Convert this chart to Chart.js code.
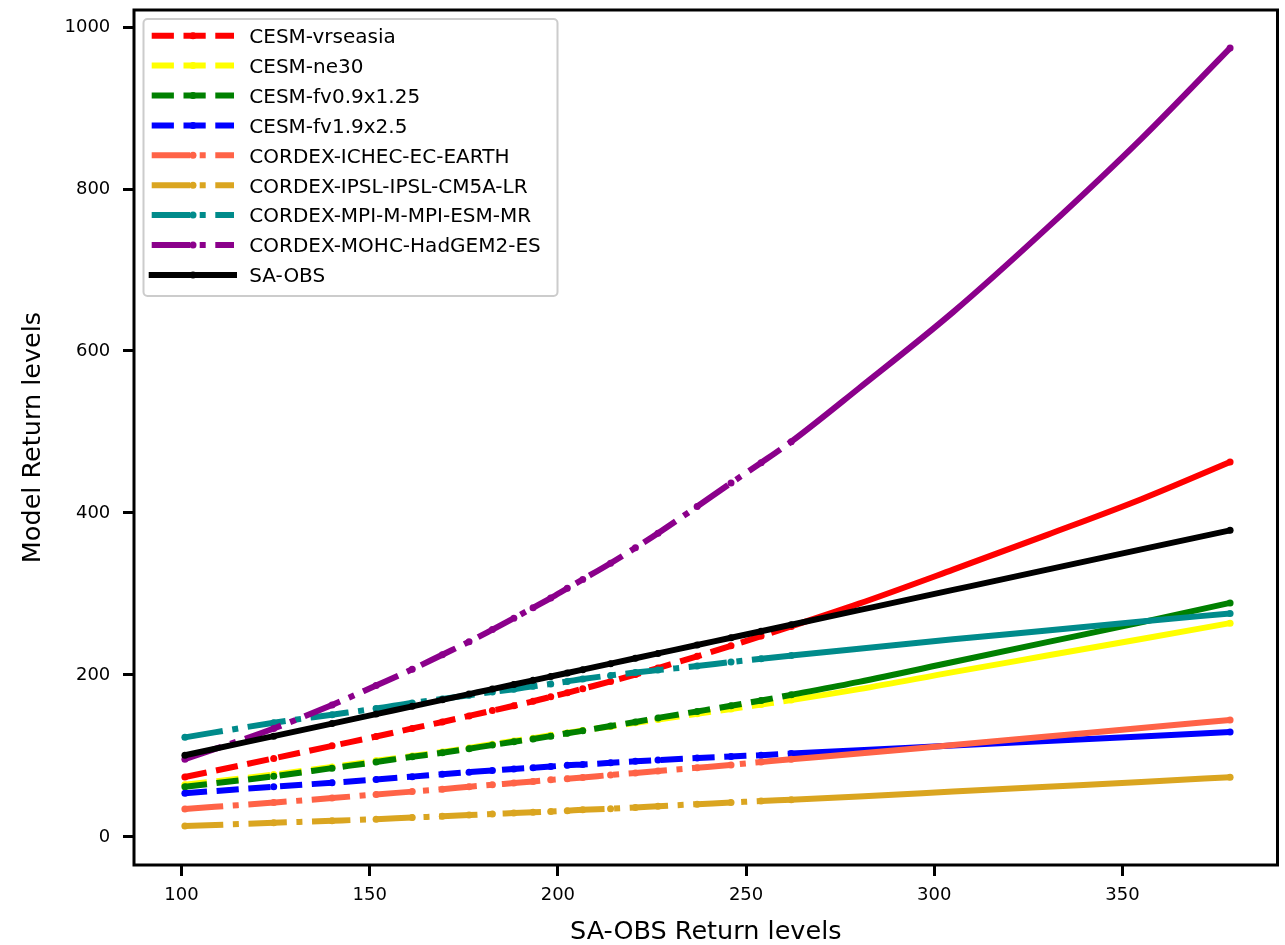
<!DOCTYPE html>
<html>
<head>
<meta charset="utf-8">
<script src="https://cdn.jsdelivr.net/npm/chart.js@4.4.1/dist/chart.umd.min.js"></script>
<style>
  html, body { margin: 0; padding: 0; background: #fff; }
  canvas { display: block; }
</style>
</head>
<body>
<canvas id="returnLevelChart" width="1285" height="945"></canvas>
<script>
// SA-OBS return levels, one entry per return period (x axis)
const obsLevels = [100.9, 124.5, 140, 151.7, 161.3, 169.3, 176.4, 182.6, 188.3, 193.4, 198.1, 202.5, 206.6,
  214, 220.6, 226.6, 237, 246, 254, 262, 280, 305, 330, 355, 378.6];

// Model return levels at the same return periods
const cesmVrseasia = [74, 97, 112.5, 124, 134, 142, 149.5, 156, 162, 167.5, 173, 178, 183,
  192, 200.5, 208.5, 223, 236, 248, 260, 288, 330, 373, 417, 463];
const cesmNe30 = [64.5, 77, 86.5, 94, 100, 105, 110, 114.5, 118.5, 122, 125.5, 128.5, 131.5,
  136.5, 141, 145, 152, 158, 163.5, 169, 182.5, 203.5, 224, 244.5, 264];
const cesmFv09 = [62, 75, 85, 92.5, 99, 104, 109, 113.5, 117.5, 121, 124.5, 128, 131,
  137, 142, 147, 155, 162, 168.5, 175.5, 191.5, 216, 240.5, 265, 289];
const cesmFv19 = [54, 62, 67, 71, 74.5, 77.5, 80, 82, 84, 85.5, 87, 88.5, 89.5,
  91.5, 93.5, 95, 97.5, 99.5, 101, 103, 107, 113, 118.5, 124, 129.5];
const cordexIchec = [34.5, 42.5, 48, 52.5, 56, 59, 62, 64.5, 66.5, 68.5, 70.5, 72, 73.5,
  76.5, 79, 81.5, 85.5, 89, 92.5, 96, 103, 113.5, 124, 134.5, 144.5];
const cordexIpsl = [13.5, 17.5, 20, 22, 24, 25.5, 27, 28.5, 29.5, 30.5, 31.5, 32.5, 33.5,
  35, 36.5, 38, 40.5, 42.5, 44.5, 46, 50, 56, 62, 68, 73.7];
const cordexMpi = [123, 141, 151, 158.5, 165.5, 170.5, 175, 179, 182.5, 186, 189, 192, 195,
  199.5, 203, 206, 211, 216, 220, 224, 232.5, 244, 255, 266, 276];
const cordexMohc = [96, 134, 163, 187, 207, 225, 241, 256, 270, 283, 295, 307, 318,
  338, 357, 375, 408, 437, 462, 488, 554, 648, 752, 862, 974];

const seriesNames = ['CESM-vrseasia', 'CESM-ne30', 'CESM-fv0.9x1.25', 'CESM-fv1.9x2.5',
  'CORDEX-ICHEC-EC-EARTH', 'CORDEX-IPSL-IPSL-CM5A-LR', 'CORDEX-MPI-M-MPI-ESM-MR',
  'CORDEX-MOHC-HadGEM2-ES', 'SA-OBS'];
const seriesValues = [cesmVrseasia, cesmNe30, cesmFv09, cesmFv19, cordexIchec, cordexIpsl,
  cordexMpi, cordexMohc, obsLevels];
const seriesColors = ['#ff0000', '#ffff00', '#008000', '#0000ff', '#ff6347', '#daa520',
  '#008b8b', '#8b008b', '#000000'];

const xTicks = [100, 150, 200, 250, 300, 350];
const yTicks = [0, 200, 400, 600, 800, 1000];

const LW = 6;
const DASHED = [3.7 * LW, 1.6 * LW];
const DASH_DOT = [6.4 * LW, 1.6 * LW, 1 * LW, 1.6 * LW];
const lineStyles = [DASHED, DASHED, DASHED, DASHED, DASH_DOT, DASH_DOT, DASH_DOT, DASH_DOT, []];

// past this the markers pile up so densely the line reads as solid
const DASH_END = 262;
const FONT = '"DejaVu Sans", sans-serif';

const datasets = seriesNames.map((name, i) => ({
  label: name,
  data: obsLevels.map((x, j) => ({ x: x, y: seriesValues[i][j] })),
  borderColor: seriesColors[i],
  backgroundColor: seriesColors[i],
  borderWidth: LW,
  borderDash: lineStyles[i],
  borderCapStyle: 'butt',
  borderJoinStyle: 'round',
  cubicInterpolationMode: 'monotone',
  pointRadius: ctx => (ctx.parsed.x <= DASH_END || ctx.dataIndex === obsLevels.length - 1) ? 3.5 : 0,
  pointBorderWidth: 0,
  pointHoverRadius: 0,
  segment: {
    borderDash: ctx => ctx.p1.parsed.x > DASH_END ? [] : undefined
  },
  order: seriesNames.length - i
}));

// Axes frame on all four sides
const axesFrame = {
  id: 'axesFrame',
  afterDatasetsDraw(chart) {
    const { ctx, chartArea: a } = chart;
    ctx.save();
    ctx.strokeStyle = '#000';
    ctx.lineWidth = 3;
    ctx.strokeRect(a.left, a.top, a.right - a.left, a.bottom - a.top);
    ctx.restore();
  }
};

// Legend box in the upper left of the plot
const legendBox = {
  id: 'legendBox',
  afterDraw(chart) {
    const ctx = chart.ctx;
    const left = 143.5, top = 19, width = 414, height = 277;
    const rowTop = 35.7, rowStep = 29.9;
    ctx.save();
    ctx.fillStyle = 'rgba(255,255,255,0.8)';
    ctx.strokeStyle = '#cccccc';
    ctx.lineWidth = 2;
    ctx.beginPath();
    ctx.roundRect(left, top, width, height, 4);
    ctx.fill();
    ctx.stroke();

    ctx.font = '20px ' + FONT;
    chart.data.datasets.forEach((ds, i) => {
      const y = rowTop + i * rowStep;
      const solid = ds.borderDash.length === 0;
      ctx.strokeStyle = ds.borderColor;
      ctx.lineWidth = LW;
      ctx.lineCap = solid ? 'square' : 'butt';
      ctx.setLineDash(ds.borderDash);
      ctx.beginPath();
      ctx.moveTo(151.7, y);
      ctx.lineTo(234, y);
      ctx.stroke();
      ctx.setLineDash([]);
      ctx.fillStyle = ds.borderColor;
      ctx.beginPath();
      ctx.arc(193, y, 3.5, 0, Math.PI * 2);
      ctx.fill();
      ctx.fillStyle = '#000';
      ctx.textBaseline = 'alphabetic';
      ctx.fillText(ds.label, 249.3, y + 7.3);
    });
    ctx.restore();
  }
};

const tickGrid = {
  drawOnChartArea: false,
  drawTicks: true,
  tickLength: 11,
  tickWidth: 3,
  tickColor: '#000'
};

new Chart(document.getElementById('returnLevelChart'), {
  type: 'line',
  data: { datasets: datasets },
  plugins: [axesFrame, legendBox],
  options: {
    responsive: false,
    animation: false,
    devicePixelRatio: 1,
    layout: { padding: { left: 0, right: 7.5, top: 10, bottom: 0 } },
    plugins: {
      legend: { display: false },
      tooltip: { enabled: false }
    },
    scales: {
      x: {
        type: 'linear',
        min: 87.38,
        max: 391.2,
        afterBuildTicks: scale => { scale.ticks = xTicks.map(v => ({ value: v })); },
        afterFit: scale => {
          scale.height = 80;
          scale.paddingLeft = 0;
          scale.paddingRight = 0;
        },
        ticks: {
          color: '#000',
          font: { family: FONT, size: 18 },
          padding: 9,
          maxRotation: 0,
          callback: v => String(v)
        },
        grid: tickGrid,
        border: { display: false },
        title: {
          display: true,
          text: 'SA-OBS Return levels',
          color: '#000',
          font: { family: FONT, size: 25.5, lineHeight: 1 },
          padding: { top: 4, bottom: 0 }
        }
      },
      y: {
        type: 'linear',
        min: -34.6,
        max: 1021,
        afterBuildTicks: scale => { scale.ticks = yTicks.map(v => ({ value: v })); },
        afterFit: scale => {
          scale.width = 134;
          scale.paddingTop = 0;
          scale.paddingBottom = 0;
        },
        ticks: {
          color: '#000',
          font: { family: FONT, size: 18 },
          padding: 12.7,
          callback: v => String(v)
        },
        grid: tickGrid,
        border: { display: false },
        title: {
          display: true,
          text: 'Model Return levels',
          color: '#000',
          font: { family: FONT, size: 25.5, lineHeight: 1 },
          padding: { top: 21, bottom: 0 }
        }
      }
    }
  }
});
</script>
</body>
</html>
